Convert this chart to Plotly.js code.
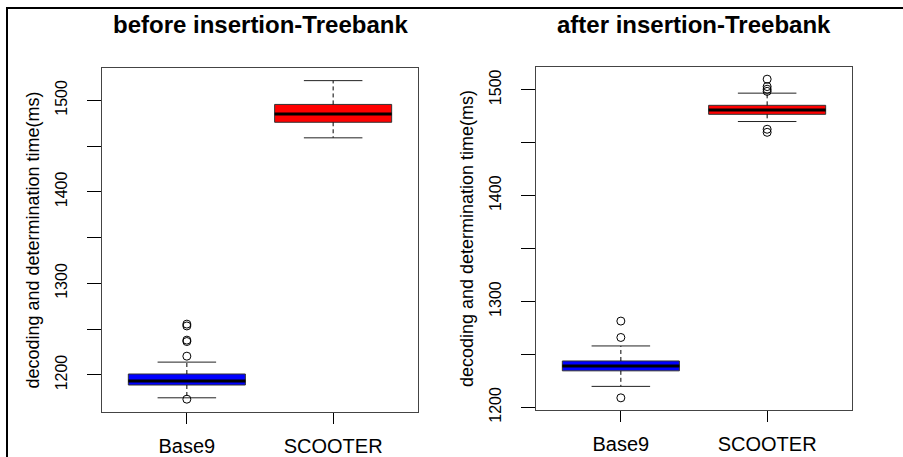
<!DOCTYPE html>
<html>
<head>
<meta charset="utf-8">
<script src="https://cdn.plot.ly/plotly-3.0.1.min.js"></script>
<style>
  html, body { margin: 0; padding: 0; background: #fff; }
  #wrap { position: relative; width: 903px; height: 457px; overflow: hidden; }
  #chart { width: 903px; height: 457px; }
  #frame { position: absolute; left: 6px; top: 7px; width: 920px; height: 470px;
           border-left: 2px solid #000; border-top: 2px solid #000; pointer-events: none; }
</style>
</head>
<body>
<div id="wrap">
  <div id="chart"></div>
  <div id="frame"></div>
</div>
<script>
// ---- data ----
const categories = ['Base9', 'SCOOTER'];
const boxColors = ['#0000FF', '#FF0000'];

// before insertion
const beforeLowerWhisker = [1175, 1459];
const beforeQ1           = [1189, 1476];
const beforeMedian       = [1193.5, 1485];
const beforeQ3           = [1201, 1495.5];
const beforeUpperWhisker = [1214, 1521.5];
const beforeOutliersBase9   = [1255.5, 1253.5, 1238, 1236.5, 1220.5, 1173.5];
const beforeOutliersSCOOTER = [];

// after insertion
const afterLowerWhisker = [1219.8, 1470];
const afterQ1           = [1234.5, 1476.8];
const afterMedian       = [1239, 1481];
const afterQ3           = [1243.8, 1485.3];
const afterUpperWhisker = [1258, 1496.8];
const afterOutliersBase9   = [1281.5, 1266, 1209];
const afterOutliersSCOOTER = [1510, 1503, 1500.5, 1498.5, 1462.7, 1459.8];

const yTitle = 'decoding and determination time(ms)';
const titleBefore = 'before insertion-Treebank';
const titleAfter  = 'after insertion-Treebank';

// ---- build traces ----
const BOXW = 0.8, CAPW = 0.4;
function panel(xa, ya, lo, q1, med, q3, hi, outs) {
  const tr = [];
  categories.forEach((c, i) => {
    const p = i + 1;
    // dashed whiskers
    tr.push({type: 'scatter', mode: 'lines', xaxis: xa, yaxis: ya, hoverinfo: 'skip',
      x: [p, p, null, p, p], y: [q3[i], hi[i], null, q1[i], lo[i]],
      line: {color: '#000', width: 1, dash: '4px,3px'}, showlegend: false});
    // caps
    tr.push({type: 'scatter', mode: 'lines', xaxis: xa, yaxis: ya, hoverinfo: 'skip',
      x: [p - CAPW / 2, p + CAPW / 2, null, p - CAPW / 2, p + CAPW / 2],
      y: [hi[i], hi[i], null, lo[i], lo[i]],
      line: {color: '#222', width: 1}, showlegend: false});
    // box
    tr.push({type: 'box', xaxis: xa, yaxis: ya, name: c,
      x: [p], q1: [q1[i]], median: [med[i]], q3: [q3[i]],
      lowerfence: [q1[i]], upperfence: [q3[i]],
      width: BOXW, whiskerwidth: 0, fillcolor: boxColors[i],
      line: {color: '#333', width: 1}, boxpoints: false, showlegend: false});
    // thick median
    tr.push({type: 'scatter', mode: 'lines', xaxis: xa, yaxis: ya, hoverinfo: 'skip',
      x: [p - BOXW / 2, p + BOXW / 2], y: [med[i], med[i]],
      line: {color: '#000', width: 3}, showlegend: false});
    // outliers
    if (outs[i].length) {
      tr.push({type: 'scatter', mode: 'markers', xaxis: xa, yaxis: ya,
        x: outs[i].map(() => p), y: outs[i],
        marker: {symbol: 'circle-open', size: 8, color: '#000', line: {width: 1, color: '#000'}},
        showlegend: false});
    }
  });
  return tr;
}

const data = [].concat(
  panel('x', 'y', beforeLowerWhisker, beforeQ1, beforeMedian, beforeQ3, beforeUpperWhisker,
        [beforeOutliersBase9, beforeOutliersSCOOTER]),
  panel('x2', 'y2', afterLowerWhisker, afterQ1, afterMedian, afterQ3, afterUpperWhisker,
        [afterOutliersBase9, afterOutliersSCOOTER])
);

const FONT = 'Arial, "Liberation Sans", sans-serif';
function xAxis(dom, anchor) {
  return {domain: dom, anchor: anchor, range: [0.42, 2.58], type: 'linear',
    tickvals: [1, 2], ticktext: categories, ticks: 'outside', ticklen: 11, tickwidth: 1,
    tickcolor: '#000', showgrid: false, zeroline: false, showline: true, mirror: true,
    ticklabelstandoff: 5,
    linecolor: '#444', linewidth: 1, tickfont: {family: FONT, size: 20, color: '#000'}, fixedrange: true};
}
function yAxis(dom, anchor, rng) {
  return {domain: dom, anchor: anchor, range: rng, dtick: 100, tick0: 1200,
    ticks: 'outside', ticklen: 14, tickwidth: 1, tickcolor: '#000', tickangle: -90,
    minor: {dtick: 50, tick0: 1200, ticks: 'outside', ticklen: 14, tickwidth: 1, tickcolor: '#000', showgrid: false},
    showgrid: false, zeroline: false, showline: true, mirror: true,
    linecolor: '#444', linewidth: 1, tickfont: {family: FONT, size: 16, color: '#000'},
    ticklabelstandoff: 14,
    title: {text: yTitle, font: {family: FONT, size: 18, color: '#000'}, standoff: 8},
    fixedrange: true};
}

const W = 903, H = 457;
const layout = {
  width: W, height: H, margin: {l: 0, r: 0, t: 0, b: 0},
  paper_bgcolor: '#fff', plot_bgcolor: '#fff', showlegend: false,
  xaxis:  xAxis([102 / W, 418 / W], 'y'),
  yaxis:  yAxis([1 - 412 / H, 1 - 68 / H], 'x', [1159.5, 1535.3]),
  xaxis2: xAxis([536 / W, 852 / W], 'y2'),
  yaxis2: yAxis([1 - 410 / H, 1 - 67 / H], 'x2', [1197.5, 1521.5]),
  annotations: [
    {text: '<b>' + titleBefore + '</b>', xref: 'x domain', yref: 'paper', x: 0.5, y: 1 - 25 / H,
     xanchor: 'center', yanchor: 'middle', showarrow: false,
     font: {family: FONT, size: 24, color: '#000'}},
    {text: '<b>' + titleAfter + '</b>', xref: 'x2 domain', yref: 'paper', x: 0.5, y: 1 - 25 / H,
     xanchor: 'center', yanchor: 'middle', showarrow: false,
     font: {family: FONT, size: 24, color: '#000'}}
  ]
};

Plotly.newPlot('chart', data, layout, {displayModeBar: false, staticPlot: true});
</script>
</body>
</html>
